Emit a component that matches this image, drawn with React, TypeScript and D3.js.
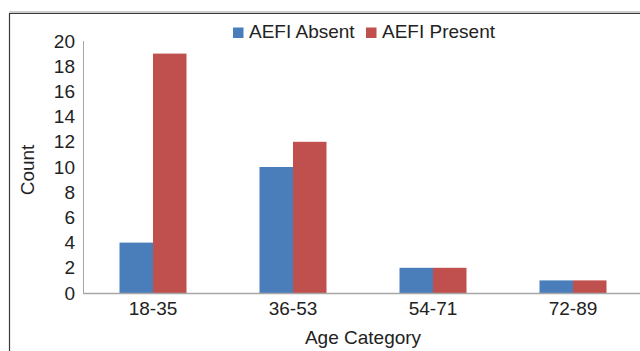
import React from "react";
import * as d3 from "d3";

const categories = ["18-35", "36-53", "54-71", "72-89"];
const aefiAbsent = [4, 10, 2, 1];
const aefiPresent = [19, 12, 2, 1];
const seriesNames = ["AEFI Absent", "AEFI Present"];
const yTicks = [0, 2, 4, 6, 8, 10, 12, 14, 16, 18, 20];

const W = 640;
const H = 351;
const colors = ["#4a7ebb", "#c0504d"];
const font = "Liberation Sans, Arial, sans-serif";
const fs = 19;

export default function App() {
  const x = d3.scaleBand<string>().domain(categories).range([83, 643]);
  const y = d3.scaleLinear().domain([0, 20]).range([293, 41]);
  const barW = 33.5;
  const series = [aefiAbsent, aefiPresent];

  return (
    <svg
      width={W}
      height={H}
      style={{ position: "absolute", left: 0, top: 0, background: "#fff" }}
      fontFamily={font}
    >
      {/* outer frame */}
      <line x1={9.5} y1={12} x2={W} y2={12} stroke="#9a9a9a" strokeWidth={1} />
      <line x1={9.5} y1={13.5} x2={W} y2={13.5} stroke="#3a3a3a" strokeWidth={1.2} />
      <line x1={9.5} y1={13} x2={9.5} y2={H} stroke="#3a3a3a" strokeWidth={1.2} />

      {/* bars */}
      {categories.map((c, i) => {
        const cx = (x(c) ?? 0) + x.bandwidth() / 2;
        return series.map((s, j) => (
          <rect
            key={c + j}
            x={cx - barW + j * barW}
            y={y(s[i])}
            width={barW}
            height={y(0) - y(s[i])}
            fill={colors[j]}
          />
        ));
      })}

      {/* axes */}
      <line x1={83.5} y1={41} x2={83.5} y2={293} stroke="#a6a6a6" strokeWidth={1} />
      <line x1={83} y1={293.5} x2={W} y2={293.5} stroke="#a6a6a6" strokeWidth={1.5} />

      {yTicks.map((t) => (
        <text
          key={t}
          x={75}
          y={y(t)}
          dy="0.35em"
          textAnchor="end"
          fontSize={fs}
          fill="#222"
        >
          {t}
        </text>
      ))}

      {categories.map((c) => (
        <text
          key={c}
          x={(x(c) ?? 0) + x.bandwidth() / 2}
          y={314.5}
          textAnchor="middle"
          fontSize={fs}
          fill="#222"
        >
          {c}
        </text>
      ))}

      <text x={363} y={343.5} textAnchor="middle" fontSize={fs} fill="#222">
        Age Category
      </text>
      <text
        transform="translate(34,170) rotate(-90)"
        textAnchor="middle"
        fontSize={fs}
        fill="#222"
      >
        Count
      </text>

      {/* legend */}
      {seriesNames.map((n, j) => {
        const lx = j === 0 ? 233 : 366;
        return (
          <g key={n}>
            <rect x={lx} y={27.5} width={10.5} height={10.5} fill={colors[j]} />
            <text x={lx + 16} y={38} fontSize={fs} fill="#222">
              {n}
            </text>
          </g>
        );
      })}
    </svg>
  );
}
